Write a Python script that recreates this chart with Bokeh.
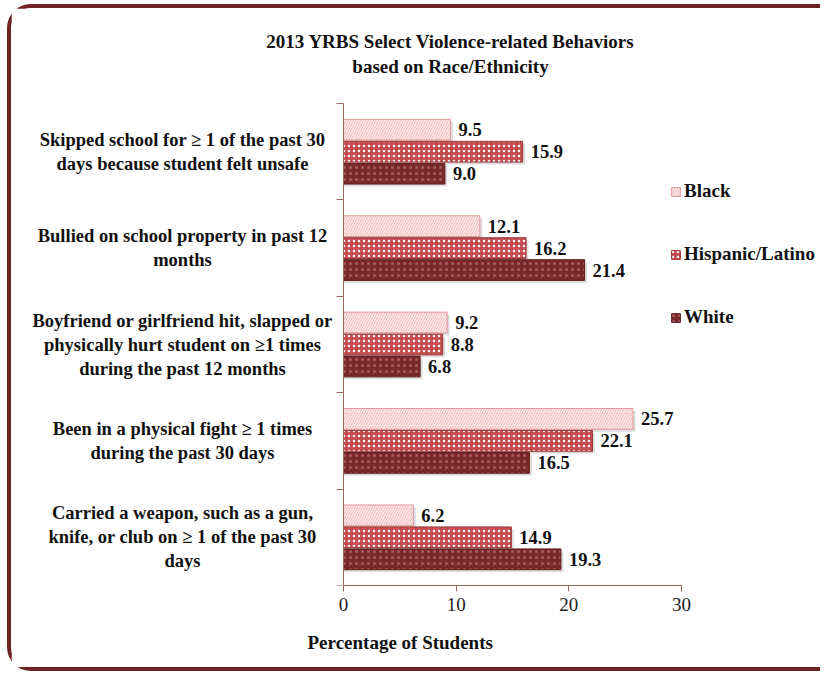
from bokeh.plotting import figure
from bokeh.models import ColumnDataSource, Legend, LegendItem, FixedTicker, Range1d, Title, Label
from bokeh.layouts import column
from bokeh.core.properties import value
from bokeh.embed import file_html
from bokeh.resources import INLINE

categories = [
    "Skipped school for \u2265 1 of the past 30\ndays because student felt unsafe",
    "Bullied on school property in past 12\nmonths",
    "Boyfriend or girlfriend hit, slapped or\nphysically hurt student on \u22651 times\nduring the past 12 months",
    "Been in a physical fight \u2265 1 times\nduring the past 30 days",
    "Carried a weapon, such as a gun,\nknife, or club on \u2265 1 of the past 30\ndays",
]
black = [9.5, 12.1, 9.2, 25.7, 6.2]
hispanic = [15.9, 16.2, 8.8, 22.1, 14.9]
white = [9.0, 21.4, 6.8, 16.5, 19.3]
series_names = ["Black", "Hispanic/Latino", "White"]
x_ticks = [0, 10, 20, 30]
title_lines = ["2013 YRBS Select Violence-related Behaviors", "based on Race/Ethnicity"]
x_title = "Percentage of Students"

FONT = "Liberation Serif"
TXT = "#111111"
n = len(categories)
centers = [n - (i + 0.5) for i in range(n)]
off = 0.228
bh = 0.215

# canvas geometry (pixels)
W, H = 813, 667
ML, MT, MB = 14, 0, 90
PX_X = 338.0 / 30          # pixels per percentage point
PX_Y = 482.0 / n           # pixels per category band
AXIS_GAP_L = 318.0         # frame-left to x=0 distance
AXIS_GAP_T = 95.0          # frame-top to top of bands
frame_w = W - ML
frame_h = H - MT - MB
x_start = -AXIS_GAP_L / PX_X
x_end = (frame_w - AXIS_GAP_L) / PX_X
y_end = n + AXIS_GAP_T / PX_Y

p = figure(width=W, height=H, output_backend="svg", toolbar_location=None,
           x_range=Range1d(x_start, x_end), y_range=Range1d(0, y_end),
           min_border_left=ML, min_border_right=0, min_border_top=MT, min_border_bottom=MB)
p.styles = {"border-left": "4px solid #6e2222", "border-top": "4px solid #6e2222",
            "border-bottom": "4px solid #6e2222", "border-radius": "24px 0 0 24px"}
p.outline_line_color = None
p.xgrid.visible = False
p.ygrid.visible = False
p.background_fill_color = "white"

axis_col = "#9a6666"
p.xaxis.ticker = FixedTicker(ticks=x_ticks)
p.xaxis.bounds = (0, 30)
p.xaxis.axis_line_color = axis_col
p.xaxis.major_tick_line_color = axis_col
p.xaxis.major_tick_in = 0
p.xaxis.major_tick_out = 6
p.xaxis.minor_tick_line_color = None
p.xaxis.major_label_text_font = FONT
p.xaxis.major_label_text_font_size = "19px"
p.xaxis.major_label_text_color = "#222222"
p.xaxis.major_label_standoff = 6

p.yaxis.ticker = FixedTicker(ticks=list(range(n + 1)))
p.yaxis.bounds = (0, n)
p.yaxis.fixed_location = 0
p.yaxis.axis_line_color = axis_col
p.yaxis.major_tick_line_color = axis_col
p.yaxis.major_tick_in = 0
p.yaxis.major_tick_out = 7
p.yaxis.minor_tick_line_color = None
p.yaxis.major_label_standoff = 0
p.yaxis.major_label_text_font_size = "0px"
p.yaxis.major_label_text_alpha = 0

styles = [
    dict(fill_color="#f3bfbf", line_color="#e09a9a", hatch_pattern="/", hatch_color="white",
         hatch_scale=5, hatch_weight=1.2, hatch_alpha=0.75),
    dict(fill_color="#c44c4f", line_color="#9e3536", hatch_pattern="dot", hatch_color="white",
         hatch_scale=5, hatch_weight=1.3, hatch_alpha=0.95),
    dict(fill_color="#7b2828", line_color="#5e1d1d", hatch_pattern="dot", hatch_color="#b06a6a",
         hatch_scale=6, hatch_weight=1, hatch_alpha=0.8),
]
series = [black, hispanic, white]
offsets = [off, 0.0, -off]

# soft drop shadows (offset by a couple of pixels down/right)
for vals, o in zip(series, offsets):
    sh = ColumnDataSource(dict(y=[c + o - 2.5 / PX_Y for c in centers],
                               right=[v + 2.5 / PX_X for v in vals]))
    p.hbar(y="y", right="right", left=0, height=bh, source=sh,
           fill_color="#000000", fill_alpha=0.13, line_color=None)

items = []
for name, vals, st, o in zip(series_names, series, styles, offsets):
    ys = [c + o for c in centers]
    src = ColumnDataSource(dict(y=ys, right=vals, label=[f"{v:.1f}" for v in vals]))
    r = p.hbar(y="y", right="right", left=0, height=bh, source=src, line_width=1, **st)
    p.text(x="right", y="y", text="label", source=src, x_offset=8,
           text_font=value(FONT), text_font_style="bold", text_font_size="18.5px",
           text_baseline="middle", text_align="left", text_color=TXT)
    items.append(LegendItem(label=name, renderers=[r]))

legend = Legend(items=items, location=(AXIS_GAP_L + 327, 257), orientation="vertical",
                glyph_width=11, glyph_height=11, label_height=20, spacing=41,
                label_standoff=3, padding=0, margin=0,
                label_text_font=FONT, label_text_font_style="bold", label_text_font_size="19px",
                label_text_color=TXT, border_line_alpha=0, background_fill_alpha=0)
p.add_layout(legend, "center")

# category labels, lines centred, left of the axis
for c, cat in zip(centers, categories):
    p.add_layout(Label(x=AXIS_GAP_L - 161, y=c, x_units="screen", y_units="data", text=cat,
                       text_align="center", text_baseline="middle",
                       text_font=FONT, text_font_style="bold", text_font_size="18.5px",
                       text_line_height=1.2, text_color=TXT))

# title lines
band_top = frame_h - AXIS_GAP_T
for t, dy in zip(title_lines, [62, 37]):
    p.add_layout(Label(x=AXIS_GAP_L + 107, y=band_top + dy, x_units="screen", y_units="screen",
                       text=t, text_align="center", text_baseline="middle",
                       text_font=FONT, text_font_style="bold", text_font_size="19px",
                       text_color=TXT))

p.add_layout(Title(text=x_title, align="left", offset=AXIS_GAP_L - 36, text_font=FONT,
                   text_font_style="bold", text_font_size="19px", text_color=TXT,
                   standoff=32), "below")

root = column(p, styles={"padding-left": "7px", "padding-top": "4px"})
open("out.html", "w").write(file_html(root, INLINE))
